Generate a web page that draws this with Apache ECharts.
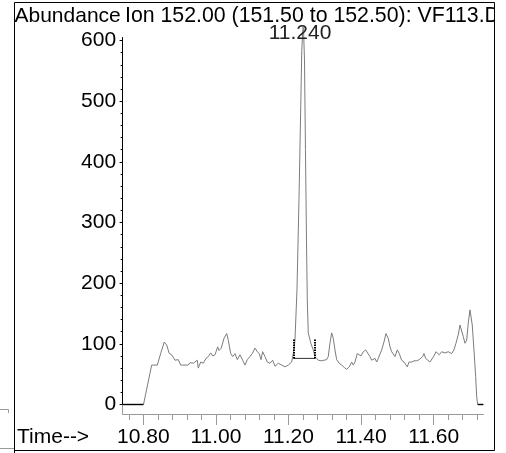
<!DOCTYPE html>
<html>
<head>
<meta charset="utf-8">
<script src="https://cdn.jsdelivr.net/npm/echarts@6/dist/echarts.min.js"></script>
<style>
  html, body { margin: 0; padding: 0; background: #fff; }
  #chart { width: 506px; height: 453px; }
</style>
</head>
<body>
<div id="chart"></div>
<script>
// Extracted ion chromatogram, m/z 152.00 (151.50 to 152.50), file VF113.D

// retention time (min) / abundance of the trace
const traceTimes = [
  10.8006, 10.8231, 10.8386, 10.8488, 10.8579, 10.8645, 10.8716, 10.8782, 10.8826, 10.8873,
  10.8920, 10.8964, 10.9030, 10.9240, 10.9287, 10.9377, 10.9488, 10.9515, 10.9581, 10.9653,
  10.9727, 10.9791, 10.9857, 10.9912, 10.9975, 11.0050, 11.0085, 11.0149, 11.0223, 11.0298,
  11.0342, 11.0408, 11.0463, 11.0526, 11.0590, 11.0664, 11.0738, 11.0802, 11.0865, 11.0939,
  11.1003, 11.1077, 11.1140, 11.1196, 11.1242, 11.1289, 11.1353, 11.1416, 11.1490, 11.1565,
  11.1628, 11.1719, 11.1813, 11.1904, 11.1994, 11.2088,
  11.2138, 11.2179, 11.2234, 11.2289, 11.2331, 11.2366, 11.2400, 11.2415, 11.2441, 11.2468,
  11.2496, 11.2518, 11.2545, 11.2620, 11.2683, 11.2730, 11.2821,
  11.2868, 11.2915, 11.2978, 11.3052, 11.3096, 11.3143, 11.3190, 11.3234, 11.3281, 11.3328,
  11.3399, 11.3466, 11.3537, 11.3603, 11.3675, 11.3741, 11.3785, 11.3832, 11.3895, 11.3950,
  11.3997, 11.4061, 11.4127, 11.4182, 11.4245, 11.4292, 11.4336, 11.4383, 11.4430, 11.4474,
  11.4521, 11.4567, 11.4631, 11.4686, 11.4749, 11.4796, 11.4843, 11.4887, 11.4934, 11.4997,
  11.5052, 11.5118, 11.5182, 11.5237, 11.5273, 11.5320, 11.5394, 11.5457, 11.5532, 11.5603,
  11.5642, 11.5697, 11.5733, 11.5780, 11.5824, 11.5898, 11.5945, 11.6008, 11.6063, 11.6110,
  11.6154, 11.6220, 11.6264, 11.6311, 11.6358, 11.6402, 11.6449, 11.6496, 11.6559, 11.6614,
  11.6678, 11.6725, 11.6771, 11.6815, 11.6862, 11.6909, 11.6953, 11.7000, 11.7028, 11.7063,
  11.7110, 11.7157, 11.7185, 11.7212
];
const traceAbundance = [
  0, 65, 65, 86, 103, 98, 84, 82, 79, 73,
  70, 74, 65, 65, 69, 68, 73, 60, 70, 68,
  76, 79, 85, 80, 82, 95, 89, 93, 109, 117,
  106, 84, 79, 84, 74, 82, 73, 65, 74, 79,
  84, 93, 87, 84, 74, 87, 79, 70, 68, 73,
  63, 68, 65, 62, 65, 70,
  86, 106, 189, 337, 469, 584, 622, 618, 568, 420,
  271, 172, 118, 100, 90, 79, 73,
  74, 72, 73, 74, 79, 101, 118, 109, 90, 74,
  68, 65, 61, 58, 62, 70, 65, 70, 84, 85,
  80, 87, 90, 87, 79, 73, 70, 76, 70, 76,
  79, 90, 103, 117, 109, 95, 87, 84, 79, 90,
  84, 73, 70, 68, 62, 70, 70, 72, 72, 74,
  76, 79, 84, 76, 73, 70, 73, 80, 87, 84,
  82, 87, 90, 85, 82, 87, 90, 84, 90, 101,
  115, 131, 128, 112, 101, 106, 134, 156, 153, 131,
  90, 46, 13, 0
];

// zero-level stretches before and after the acquired window
const leadTimes = [10.743, 10.8006];
const leadAbundance = [0, 0];
const tailTimes = [11.7212, 11.737];
const tailAbundance = [0, 0];

// integrated peak
const peakTime = 11.240;
const peakAbundance = 622;
const integTimes = [11.2138, 11.2730];
const integBaseline = 76;
const integMarkTop = 108;

// axis ticks
const timeLabels = [10.80, 11.00, 11.20, 11.40, 11.60];
const timeMinorTicks = [
  10.76, 10.84, 10.88, 10.92, 10.96, 11.04, 11.08, 11.12, 11.16,
  11.24, 11.28, 11.32, 11.36, 11.44, 11.48, 11.52, 11.56, 11.64, 11.68, 11.72
];
const abundanceLabels = [0, 100, 200, 300, 400, 500, 600];
const abundanceMinorTicks = [
  20, 40, 60, 80, 120, 140, 160, 180, 220, 240, 260, 280, 320, 340, 360, 380,
  420, 440, 460, 480, 520, 540, 560, 580
];

const FONT = '"Liberation Sans", Arial, Helvetica, sans-serif';
const FS = 21;
const T_MIN = 10.743, T_MAX = 11.737;
const A_MAX = 605;
const GRID_LEFT = 122.6, GRID_W = 360.8;

const pairs = (xs, ys) => xs.map((x, i) => [x, ys[i]]);

const chart = echarts.init(document.getElementById('chart'), null, { renderer: 'canvas' });

chart.setOption({
  animation: false,
  backgroundColor: '#fff',
  grid: [
    { left: GRID_LEFT, width: GRID_W, top: 37.5, height: 367 },
    { left: GRID_LEFT, width: GRID_W, top: 404.5, height: 9.5 }
  ],
  xAxis: [
    { gridIndex: 0, type: 'value', min: T_MIN, max: T_MAX, show: false },
    {
      gridIndex: 1, type: 'value', min: T_MIN, max: T_MAX, position: 'bottom',
      axisLine: { show: true, lineStyle: { color: '#9a9a9a', width: 1 } },
      axisTick: { show: true, customValues: timeLabels, length: 11, lineStyle: { color: '#9a9a9a' } },
      axisLabel: {
        show: true, customValues: timeLabels, margin: 23.5, verticalAlign: 'middle',
        color: '#000', fontFamily: FONT, fontSize: FS,
        formatter: v => Number(v).toFixed(2)
      },
      splitLine: { show: false }
    },
    {
      gridIndex: 1, type: 'value', min: T_MIN, max: T_MAX, position: 'bottom',
      axisLine: { show: false },
      axisTick: { show: true, customValues: timeMinorTicks, length: 6, lineStyle: { color: '#9a9a9a' } },
      axisLabel: { show: false },
      splitLine: { show: false }
    }
  ],
  yAxis: [
    {
      gridIndex: 0, type: 'value', min: 0, max: A_MAX, position: 'left',
      axisLine: { show: true, lineStyle: { color: '#000', width: 1 } },
      axisTick: { show: true, customValues: abundanceLabels, length: 3, lineStyle: { color: '#000' } },
      axisLabel: {
        show: true, customValues: abundanceLabels, margin: 6.5,
        color: '#000', fontFamily: FONT, fontSize: FS
      },
      splitLine: { show: false }
    },
    {
      gridIndex: 0, type: 'value', min: 0, max: A_MAX, position: 'left',
      axisLine: { show: false },
      axisTick: { show: true, customValues: abundanceMinorTicks, length: 2, lineStyle: { color: '#000' } },
      axisLabel: { show: false },
      splitLine: { show: false }
    },
    {
      gridIndex: 1, type: 'value', min: 0, max: 1, position: 'left',
      axisLine: { show: true, lineStyle: { color: '#9a9a9a', width: 1 } },
      axisTick: { show: false }, axisLabel: { show: false }, splitLine: { show: false }
    }
  ],
  series: [
    {
      name: 'Ion 152.00', type: 'line', xAxisIndex: 0, yAxisIndex: 0,
      data: pairs(traceTimes, traceAbundance),
      showSymbol: false, clip: false, silent: true,
      lineStyle: { color: '#7c7c7c', width: 1 },
      // retention-time label above the apex (anchored at the top of the axis, which the apex overshoots)
      markPoint: {
        symbol: 'circle', symbolSize: 1, silent: true,
        itemStyle: { color: 'rgba(0,0,0,0)' },
        data: [{ coord: [peakTime, Math.min(peakAbundance, A_MAX)], value: peakTime }],
        label: {
          show: true, position: 'inside', offset: [-3, -4],
          color: '#222', fontFamily: FONT, fontSize: FS,
          formatter: p => Number(p.value).toFixed(3)
        }
      }
    },
    {
      type: 'line', xAxisIndex: 0, yAxisIndex: 0, silent: true,
      data: pairs(leadTimes, leadAbundance), showSymbol: false, clip: false,
      lineStyle: { color: '#000', width: 1.4 }
    },
    {
      type: 'line', xAxisIndex: 0, yAxisIndex: 0, silent: true,
      data: pairs(tailTimes, tailAbundance), showSymbol: false, clip: false,
      lineStyle: { color: '#000', width: 1.4 }
    },
    {
      type: 'line', xAxisIndex: 0, yAxisIndex: 0, silent: true,
      data: integTimes.map(t => [t, integBaseline]), showSymbol: false, clip: false,
      lineStyle: { color: '#333', width: 1 },
      markLine: {
        silent: true, symbol: ['none', 'none'], label: { show: false },
        lineStyle: { color: '#000', width: 2, type: [1.5, 1] },
        data: integTimes.map(t => [{ coord: [t, integBaseline] }, { coord: [t, integMarkTop] }])
      }
    }
  ],
  graphic: [
    {
      type: 'text', x: 14.5, y: 16, z: 10, silent: true,
      style: { text: 'Abundance', fill: '#000', font: FS + 'px ' + FONT, textVerticalAlign: 'middle' }
    },
    {
      type: 'text', x: 125, y: 16, z: 10, silent: true,
      style: { text: 'Ion 152.00 (151.50 to 152.50): VF113.D', fill: '#000', font: '21.3px ' + FONT, textVerticalAlign: 'middle' }
    },
    {
      type: 'text', x: 17, y: 437.5, z: 10, silent: true,
      style: { text: 'Time-->', fill: '#000', font: FS + 'px ' + FONT, textVerticalAlign: 'middle' }
    },
    // mask for the title running past the frame
    {
      type: 'rect', z: 11, silent: true,
      shape: { x: 495, y: 0, width: 11, height: 40 },
      style: { fill: '#fff' }
    },
    // frame
    {
      type: 'rect', z: 12, silent: true,
      shape: { x: 14.5, y: 2.5, width: 480, height: 448 },
      style: { fill: 'none', stroke: '#000', lineWidth: 1 }
    },
    {
      type: 'line', z: 12, silent: true,
      shape: { x1: 14.5, y1: 450, x2: 14.5, y2: 453 },
      style: { stroke: '#000', lineWidth: 1 }
    },
    {
      type: 'line', z: 12, silent: true,
      shape: { x1: 0, y1: 448.5, x2: 14, y2: 448.5 },
      style: { stroke: '#9a9a9a', lineWidth: 1 }
    },
    {
      type: 'polyline', z: 12, silent: true,
      shape: { points: [[0, 409.5], [8.5, 409.5], [8.5, 413]] },
      style: { stroke: '#9a9a9a', lineWidth: 1, fill: 'none' }
    }
  ]
});
</script>
</body>
</html>
